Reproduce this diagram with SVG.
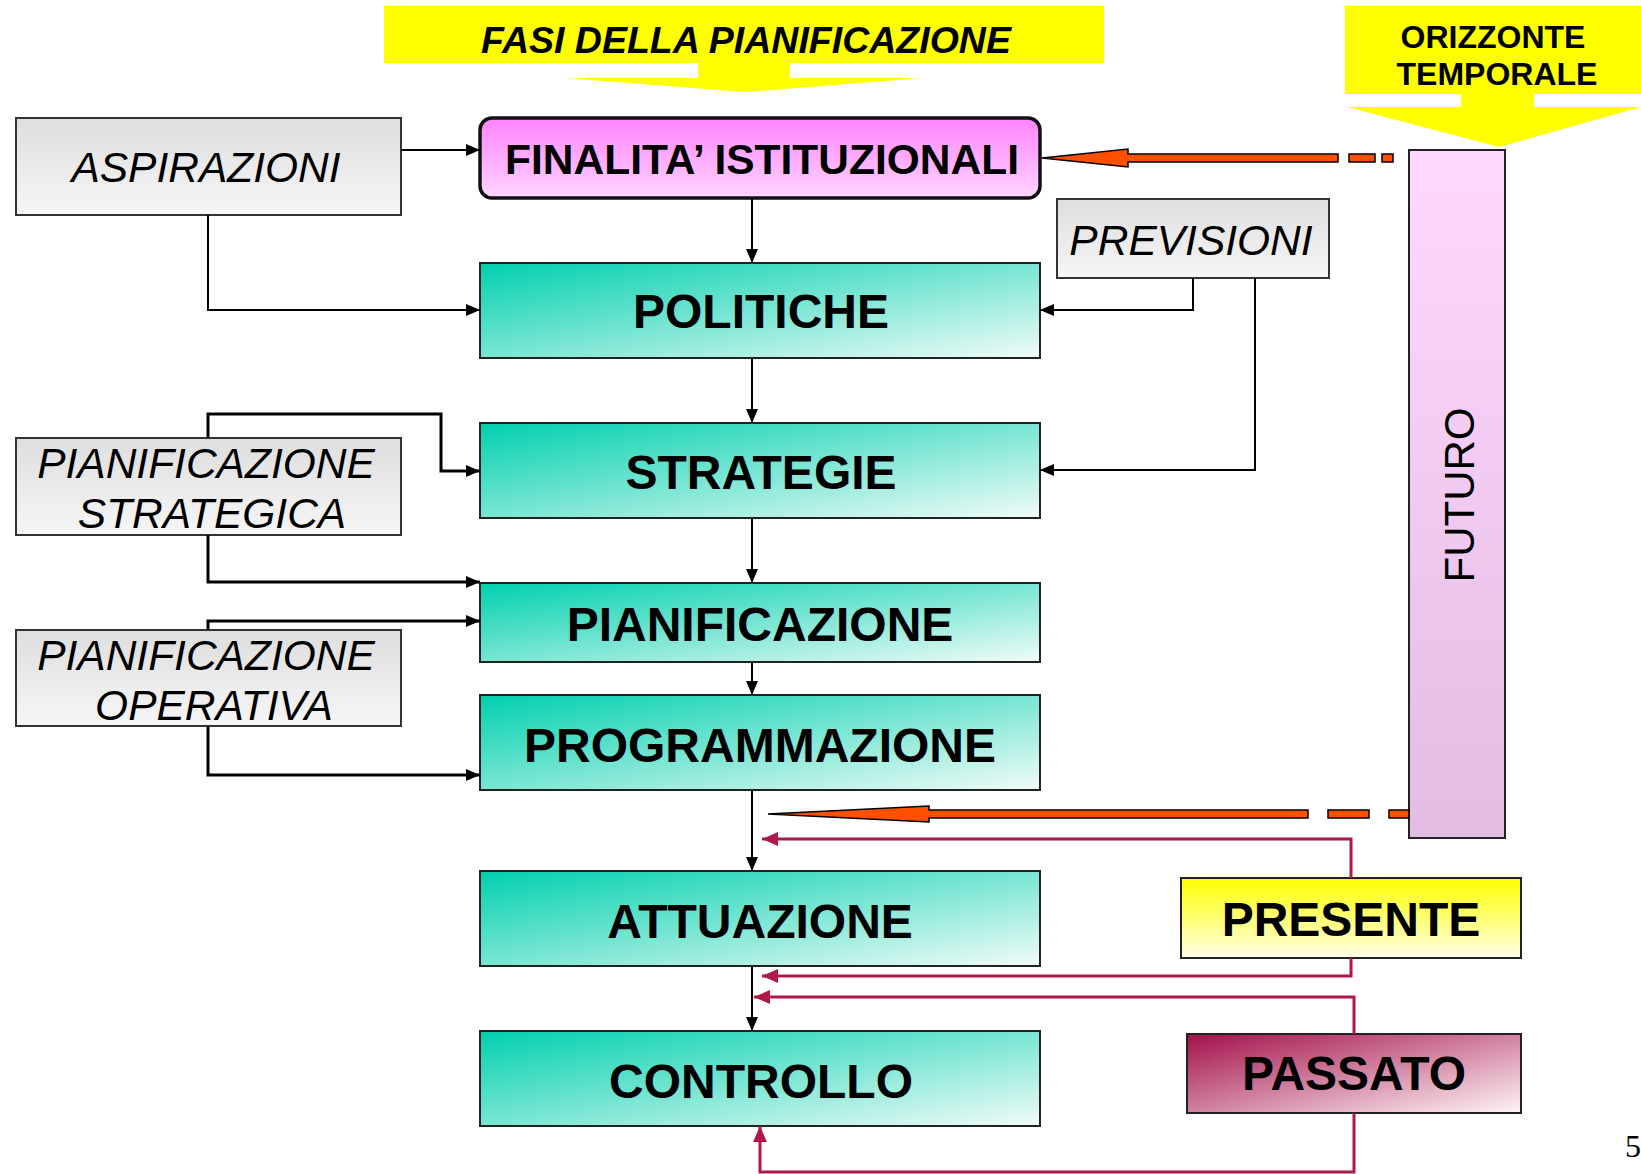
<svg xmlns="http://www.w3.org/2000/svg" width="1641" height="1174" viewBox="0 0 1641 1174">
<defs>
<linearGradient id="gTeal" x1="0" y1="0" x2="1" y2="1"><stop offset="0" stop-color="#00d0ae"/><stop offset="1" stop-color="#f0fbf8"/></linearGradient>
<linearGradient id="gGray" x1="0" y1="0" x2="0" y2="1"><stop offset="0" stop-color="#dedede"/><stop offset="1" stop-color="#f6f6f6"/></linearGradient>
<linearGradient id="gPink" x1="0" y1="0" x2="0" y2="1"><stop offset="0" stop-color="#ff84ff"/><stop offset="1" stop-color="#ffd4ff"/></linearGradient>
<linearGradient id="gFut" x1="0" y1="0" x2="0" y2="1"><stop offset="0" stop-color="#ffd8ff"/><stop offset="1" stop-color="#e2bce2"/></linearGradient>
<linearGradient id="gYel" x1="0" y1="0" x2="0" y2="1"><stop offset="0" stop-color="#ffff00"/><stop offset="1" stop-color="#ffffe8"/></linearGradient>
<linearGradient id="gPas" x1="0" y1="0" x2="1" y2="1"><stop offset="0" stop-color="#a3104a"/><stop offset="1" stop-color="#fff4f8"/></linearGradient>
<marker id="aBlk" markerUnits="userSpaceOnUse" markerWidth="14" markerHeight="12" refX="14" refY="6" orient="auto"><path d="M0,0 L14,6 L0,12 z" fill="#000"/></marker>
<marker id="aRed" markerUnits="userSpaceOnUse" markerWidth="16" markerHeight="14" refX="16" refY="7" orient="auto"><path d="M0,0 L16,7 L0,14 z" fill="#b01848"/></marker>
<style>
.teal{fill:url(#gTeal);stroke:#222;stroke-width:2}
.gray{fill:url(#gGray);stroke:#333;stroke-width:2}
.big{font-family:"Liberation Sans",Arial,sans-serif;font-weight:bold;font-size:48px;text-anchor:middle;fill:#000}
.ital{font-family:"Liberation Sans",Arial,sans-serif;font-style:italic;font-size:42.5px;text-anchor:middle;fill:#000}
.c1{fill:none;stroke:#000;stroke-width:2}
.c2{fill:none;stroke:#000;stroke-width:3}
.cr{fill:none;stroke:#b01848;stroke-width:3}
.orange{fill:#ff5000;stroke:#000;stroke-width:1.5}
</style>
</defs>
<rect width="1641" height="1174" fill="#fff"/>

<g id="banner-fasi">
<polygon points="384,6 1104,6 1104,63 790,63 790,78 922,78 745,92 565,78 698,78 698,63 384,63" fill="#ffff00"/>
<text x="746" y="53" font-family="Liberation Sans, Arial, sans-serif" font-weight="bold" font-style="italic" font-size="37.5" text-anchor="middle">FASI DELLA PIANIFICAZIONE</text>
</g>

<g id="banner-orizzonte">
<polygon points="1345,6 1641,6 1641,94 1534,94 1534,107 1641,107 1499,147 1347,107 1461,107 1461,94 1345,94" fill="#ffff00"/>
<text font-family="Liberation Sans, Arial, sans-serif" font-weight="bold" font-size="32" text-anchor="middle"><tspan x="1493" y="48">ORIZZONTE</tspan><tspan x="1497" y="85">TEMPORALE</tspan></text>
</g>

<g id="aspirazioni">
<rect class="gray" x="16" y="118" width="385" height="97"/>
<text class="ital" x="206" y="182">ASPIRAZIONI</text>
</g>

<g id="finalita">
<rect x="480" y="118" width="560" height="80" rx="12" fill="url(#gPink)" stroke="#111" stroke-width="3.5"/>
<text x="762" y="174" font-family="Liberation Sans, Arial, sans-serif" font-weight="bold" font-size="42.5" text-anchor="middle">FINALITA’ ISTITUZIONALI</text>
</g>

<g id="previsioni">
<rect class="gray" x="1057" y="199" width="272" height="79"/>
<text class="ital" x="1191" y="255">PREVISIONI</text>
</g>

<g id="politiche">
<rect class="teal" x="480" y="263" width="560" height="95"/>
<text class="big" x="761" y="328">POLITICHE</text>
</g>

<g id="strategie">
<rect class="teal" x="480" y="423" width="560" height="95"/>
<text class="big" x="761" y="489">STRATEGIE</text>
</g>

<g id="pian-strategica">
<rect class="gray" x="16" y="438" width="385" height="97"/>
<text class="ital"><tspan x="206" y="478">PIANIFICAZIONE</tspan><tspan x="212" y="528">STRATEGICA</tspan></text>
</g>

<g id="pianificazione">
<rect class="teal" x="480" y="583" width="560" height="79"/>
<text class="big" x="760" y="641">PIANIFICAZIONE</text>
</g>

<g id="pian-operativa">
<rect class="gray" x="16" y="630" width="385" height="96"/>
<text class="ital"><tspan x="206" y="670">PIANIFICAZIONE</tspan><tspan x="214" y="720">OPERATIVA</tspan></text>
</g>

<g id="programmazione">
<rect class="teal" x="480" y="695" width="560" height="95"/>
<text class="big" x="760" y="762">PROGRAMMAZIONE</text>
</g>

<g id="attuazione">
<rect class="teal" x="480" y="871" width="560" height="95"/>
<text class="big" x="760" y="938">ATTUAZIONE</text>
</g>

<g id="controllo">
<rect class="teal" x="480" y="1031" width="560" height="95"/>
<text class="big" x="761" y="1098">CONTROLLO</text>
</g>

<g id="futuro">
<rect x="1409" y="150" width="96" height="688" fill="url(#gFut)" stroke="#222" stroke-width="2"/>
<text transform="translate(1474,495) rotate(-90)" x="0" y="0" font-family="Liberation Sans, Arial, sans-serif" font-size="42" text-anchor="middle">FUTURO</text>
</g>

<g id="presente">
<rect x="1181" y="878" width="340" height="80" fill="url(#gYel)" stroke="#222" stroke-width="2"/>
<text class="big" x="1351" y="936">PRESENTE</text>
</g>

<g id="passato">
<rect x="1187" y="1034" width="334" height="79" fill="url(#gPas)" stroke="#222" stroke-width="2"/>
<text class="big" x="1354" y="1090">PASSATO</text>
</g>

<g id="connectors">
<path class="c1" d="M401,150 H480" marker-end="url(#aBlk)"/>
<path class="c1" d="M208,215 V310 H480" marker-end="url(#aBlk)"/>
<path class="c1" d="M752,198 V263" marker-end="url(#aBlk)"/>
<path class="c1" d="M752,358 V423" marker-end="url(#aBlk)"/>
<path class="c1" d="M752,518 V583" marker-end="url(#aBlk)"/>
<path class="c1" d="M752,662 V695" marker-end="url(#aBlk)"/>
<path class="c1" d="M752,790 V871" marker-end="url(#aBlk)"/>
<path class="c1" d="M752,966 V1031" marker-end="url(#aBlk)"/>
<path class="c1" d="M1193,278 V310 H1040" marker-end="url(#aBlk)"/>
<path class="c1" d="M1255,278 V470 H1040" marker-end="url(#aBlk)"/>
<path class="c2" d="M208,438 V414 H441 V471 H480" marker-end="url(#aBlk)"/>
<path class="c2" d="M208,535 V582 H480" marker-end="url(#aBlk)"/>
<path class="c2" d="M208,630 V621 H480" marker-end="url(#aBlk)"/>
<path class="c2" d="M208,726 V775 H480" marker-end="url(#aBlk)"/>
<path class="cr" d="M1351,878 V839 H762" marker-end="url(#aRed)"/>
<path class="cr" d="M1351,958 V976 H762" marker-end="url(#aRed)"/>
<path class="cr" d="M1354,1034 V997 H754" marker-end="url(#aRed)"/>
<path class="cr" d="M1354,1113 V1172 H760 V1126" marker-end="url(#aRed)"/>
<polygon class="orange" points="1042,158 1128,149 1128,154 1338,154 1338,162 1128,162 1128,167"/>
<rect class="orange" x="1349" y="154" width="26" height="8"/>
<rect class="orange" x="1382" y="154" width="11" height="8"/>
<polygon class="orange" points="768,814 929,806 929,810 1308,810 1308,818 929,818 929,822"/>
<rect class="orange" x="1328" y="810" width="41" height="8"/>
<rect class="orange" x="1389" y="810" width="20" height="8"/>
</g>

<text x="1625" y="1157" font-family="Liberation Serif, Times New Roman, serif" font-size="32">5</text>
</svg>
